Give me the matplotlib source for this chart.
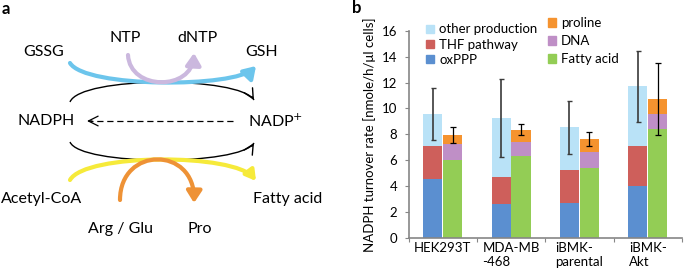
import matplotlib
matplotlib.use('Agg')
import matplotlib.pyplot as plt
import matplotlib.transforms as mtransforms
from matplotlib.patches import FancyArrowPatch, PathPatch, Patch
from matplotlib.path import Path
import numpy as np

plt.rcParams['font.family'] = ['Lato', 'DejaVu Sans']

# panel b data (nmole/h/ul cells)
cell_lines = ['HEK293T', 'MDA-MB\n-468', 'iBMK-\nparental', 'iBMK-\nAkt']
oxppp = [4.56, 2.64, 2.69, 4.05]
thf = [2.54, 2.08, 2.54, 3.05]
other_prod = [2.47, 4.56, 3.31, 4.62]
fatty_acid = [6.00, 6.36, 5.38, 8.38]
dna = [1.23, 1.02, 1.24, 1.21]
proline = [0.74, 0.98, 1.00, 1.13]
prod_err = [1.98, 3.00, 2.02, 2.75]
cons_err = [0.62, 0.41, 0.55, 2.75]

c_ox = '#5B8FD0'
c_thf = '#CE5F5B'
c_other = '#B9E2F7'
c_fa = '#93CD55'
c_dna = '#BF8FC6'
c_pro = '#F5932F'

fig = plt.figure(figsize=(6.85, 2.76), dpi=100)

# ---------------- panel a : diagram ----------------
axa = fig.add_axes([0, 0, 340 / 685, 1])
axa.set_xlim(0, 340)
axa.set_ylim(276, 0)
axa.axis('off')


def curve(p0, c1, c2, p1, color, lw, style, z=2):
    path = Path([p0, c1, c2, p1], [Path.MOVETO, Path.CURVE4, Path.CURVE4, Path.CURVE4])
    arr = FancyArrowPatch(path=path, arrowstyle=style,
                          color=color, lw=lw, mutation_scale=10, shrinkA=0, shrinkB=0,
                          zorder=z)
    axa.add_patch(arr)


def head(p_from, p_to, lw=1.0, ls='-'):
    axa.add_patch(FancyArrowPatch(p_from, p_to, arrowstyle='->,head_width=0.35,head_length=0.7',
                                  mutation_scale=10, lw=lw, color='black',
                                  shrinkA=0, shrinkB=0))


def thin_curve(p0, c1, c2, p1):
    path = Path([p0, c1, c2, p1], [Path.MOVETO, Path.CURVE4, Path.CURVE4, Path.CURVE4])
    axa.add_patch(PathPatch(path, fill=False, lw=1.0, ec='black'))
    d = np.array(p1, float) - np.array(c2, float)
    d = d / np.hypot(*d)
    head(tuple(np.array(p1) - 4 * d), p1)


thick = '-|>,head_width=0.45,head_length=0.7'
curve((70, 63), (85, 88), (235, 88), (256, 66), '#6CC5EC', 3.0, thick)
curve((128, 55), (130, 91), (192, 91), (194, 53), '#CBB8DE', 3.0, thick, z=3)
thin_curve((70, 102), (80, 76), (240, 76), (254, 100))
thin_curve((70, 142), (80, 166), (240, 166), (254, 143))
curve((70, 180), (85, 153), (235, 153), (256, 181), '#F6EA3A', 3.0, '-|>,head_width=0.35,head_length=0.6')
curve((120, 200), (120, 146), (195, 146), (194, 203), '#EE9236', 3.0, thick, z=3)
axa.plot([233, 90], [121, 121], color='black', lw=0.9, ls=(0, (5, 3)))
head((92, 121), (87, 121), lw=0.9)

fs_a = 11.5
labels_a = [('GSSG', 44, 52), ('NTP', 125, 38), ('dNTP', 198, 38), ('GSH', 262, 52),
            ('NADPH', 46, 121), ('Acetyl-CoA', 42, 199), ('Fatty acid', 288, 199),
            ('Arg / Glu', 120, 229), ('Pro', 200, 229)]
for txt, x, y in labels_a:
    axa.text(x, y, txt, ha='center', va='center', fontsize=fs_a)
axa.text(248, 121, 'NADP$^{+}$', ha='left', va='center', fontsize=fs_a)
axa.text(2, 9, 'a', ha='left', va='center', fontsize=12, fontweight='bold')

# ---------------- panel b : bars ----------------
ax = fig.add_axes([408.6 / 685, 1 - 238 / 276, 273.3 / 685, 207.3 / 276])
x = np.arange(len(cell_lines))
w = 0.28
off = 0.146
xp = x - off
xc = x + off

ax.bar(xp, oxppp, w, color=c_ox)
ax.bar(xp, thf, w, bottom=oxppp, color=c_thf)
bot = np.array(oxppp) + np.array(thf)
ax.bar(xp, other_prod, w, bottom=bot, color=c_other)
prod_tot = bot + np.array(other_prod)

ax.bar(xc, fatty_acid, w, color=c_fa)
ax.bar(xc, dna, w, bottom=fatty_acid, color=c_dna)
bot2 = np.array(fatty_acid) + np.array(dna)
ax.bar(xc, proline, w, bottom=bot2, color=c_pro)
cons_tot = bot2 + np.array(proline)

ax.errorbar(xp, prod_tot, yerr=prod_err, fmt='none', ecolor='#3a3a3a', elinewidth=1.2,
            capsize=1.8, capthick=1.0)
ax.errorbar(xc, cons_tot, yerr=cons_err, fmt='none', ecolor='black', elinewidth=0.9,
            capsize=2.2, capthick=0.9)

ax.set_xlim(-0.5, 3.5)
ax.set_ylim(0, 16)
ax.set_yticks(np.arange(0, 17, 2))
ax.set_xticks(np.arange(-0.5, 3.6, 1))
ax.set_xticklabels([])
ax.set_xticks(x, minor=True)
ax.set_xticklabels(cell_lines, minor=True, ha='center', multialignment='left', fontsize=9.5)
shift = mtransforms.ScaledTranslation(6 / 100, 0, fig.dpi_scale_trans)
for lab in ax.get_xticklabels(minor=True):
    lab.set_transform(lab.get_transform() + shift)
ax.tick_params(axis='x', which='minor', length=0, pad=3)
ax.tick_params(axis='x', which='major', length=3, color='#868686', direction='out')
ax.tick_params(axis='y', length=3, color='#868686', labelsize=9.5, pad=5)
for s in ['top', 'right']:
    ax.spines[s].set_visible(False)
for s in ['left', 'bottom']:
    ax.spines[s].set_color('#868686')
    ax.spines[s].set_linewidth(1.2)
ax.set_ylabel('NADPH turnover rate [nmole/h/\u03bcl cells]', fontsize=9.5, labelpad=4)

leg1 = ax.legend([Patch(color=c_other), Patch(color=c_thf), Patch(color=c_ox)],
                 ['other production', 'THF pathway', 'oxPPP'],
                 loc='upper left', bbox_to_anchor=(0.03, 1.08), frameon=False,
                 fontsize=9.5, handlelength=0.6, handleheight=0.6, handletextpad=0.4,
                 labelspacing=0.25, borderpad=0.2)
ax.add_artist(leg1)
ax.legend([Patch(color=c_pro), Patch(color=c_dna), Patch(color=c_fa)],
          ['proline', 'DNA', 'Fatty acid'],
          loc='upper left', bbox_to_anchor=(0.475, 1.11), frameon=False,
          fontsize=9.5, handlelength=0.6, handleheight=0.6, handletextpad=0.4,
          labelspacing=0.45, borderpad=0.2)

fig.text(352 / 685, 1 - 8 / 276, 'b', ha='left', va='center', fontsize=12, fontweight='bold')

fig.savefig('out.png', dpi=100)
